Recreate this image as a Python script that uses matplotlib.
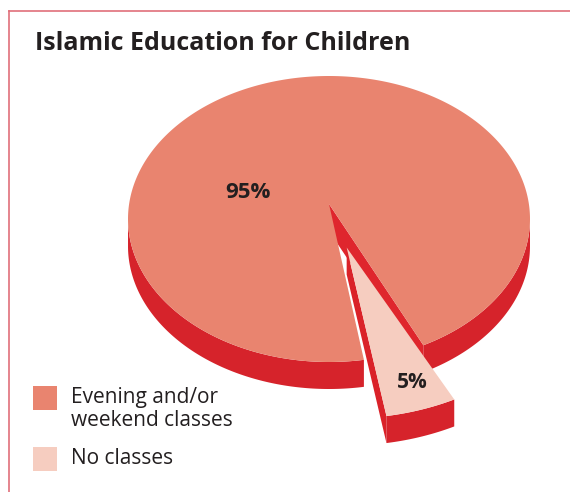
import numpy as np
import matplotlib.pyplot as plt
from matplotlib.patches import Polygon, Rectangle

# Datos del gráfico
labels = ['Evening and/or\nweekend classes', 'No classes']
values = [95, 5]
pct_labels = ['95%', '5%']
top_colors = ['#E9846F', '#F6CDC0']
side_colors = ['#D6232B', '#D6232B']
face_colors = ['#DF262D', '#DA2229']
explode = [0.0, 0.27]
scale = [1.0, 1.14]
apex_shift = [-15, -8]

# Geometría de la tarta en píxeles
CX, CY, RX, RY, DEPTH = 329, 219, 201, 143, 27
START = -80  # ángulo inicial de la porción pequeña

plt.rcParams['font.family'] = ['Open Sans', 'DejaVu Sans']

fig = plt.figure(figsize=[5.7, 4.92], dpi=100)
ax = fig.add_axes([0, 0, 1, 1])
ax.set_xlim(0, 570)
ax.set_ylim(492, 0)
ax.axis('off')

total = sum(values)
spans = [v / total * 360 for v in values]
# porción pequeña empieza en START, la grande a continuación
ranges = [(START + spans[1], START + 360), (START, START + spans[1])]


def point(t, off, s, z=0):
    r = np.radians(t)
    return (CX + off[0] + RX * s * np.cos(r), CY + off[1] - RY * s * np.sin(r) + z)


for i in range(len(values)):
    t0, t1 = ranges[i]
    mid = np.radians((t0 + t1) / 2)
    off = (RX * explode[i] * np.cos(mid), -RY * explode[i] * np.sin(mid))
    s = scale[i]
    centre = (CX + off[0], CY + off[1] + apex_shift[i])
    ts = np.linspace(t0, t1, 400)

    # caras radiales visibles
    for t, vis in [(t0, np.cos(np.radians(t0)) > 0), (t1, np.cos(np.radians(t1)) < 0)]:
        if vis:
            p = point(t, off, s)
            quad = [centre, p, (p[0], p[1] + DEPTH), (centre[0], centre[1] + DEPTH)]
            ax.add_patch(Polygon(quad, closed=True, fc=face_colors[i], ec='none'))

    # borde exterior (parte frontal)
    front = np.sin(np.radians(ts)) < 0
    idx = np.where(front)[0]
    if len(idx):
        runs = np.split(idx, np.where(np.diff(idx) != 1)[0] + 1)
        for run in runs:
            tt = ts[run]
            upper = [point(t, off, s) for t in tt]
            lower = [point(t, off, s, DEPTH) for t in tt[::-1]]
            ax.add_patch(Polygon(upper + lower, closed=True, fc=side_colors[i], ec='none'))

    # cara superior
    top = [centre] + [point(t, off, s) for t in ts]
    ax.add_patch(Polygon(top, closed=True, fc=top_colors[i], ec='none'))

# Etiquetas de porcentaje
ax.text(248, 192, pct_labels[0], fontsize=16, fontweight='bold', color='#231F20',
        ha='center', va='center')
ax.text(412, 382, pct_labels[1], fontsize=15, fontweight='bold', color='#231F20',
        ha='center', va='center')

# Título
ax.text(35, 44, 'Islamic Education for Children', fontsize=18, fontweight='bold',
        color='#231F20', ha='left', va='center')

# Marco
ax.plot([9, 9], [11, 492], color='#E0707A', lw=1.2)
ax.plot([9, 570], [11, 11], color='#E0707A', lw=1.2)

# Leyenda
legend_y = [386, 447]
text_y = [409, 459]
for i in range(len(labels)):
    ax.add_patch(Rectangle((33, legend_y[i]), 24, 24, fc=top_colors[i], ec='none'))
    ax.text(71, text_y[i], labels[i], fontsize=15, color='#231F20',
            ha='left', va='center', linespacing=1.1)

fig.savefig('out.png', dpi=100)
